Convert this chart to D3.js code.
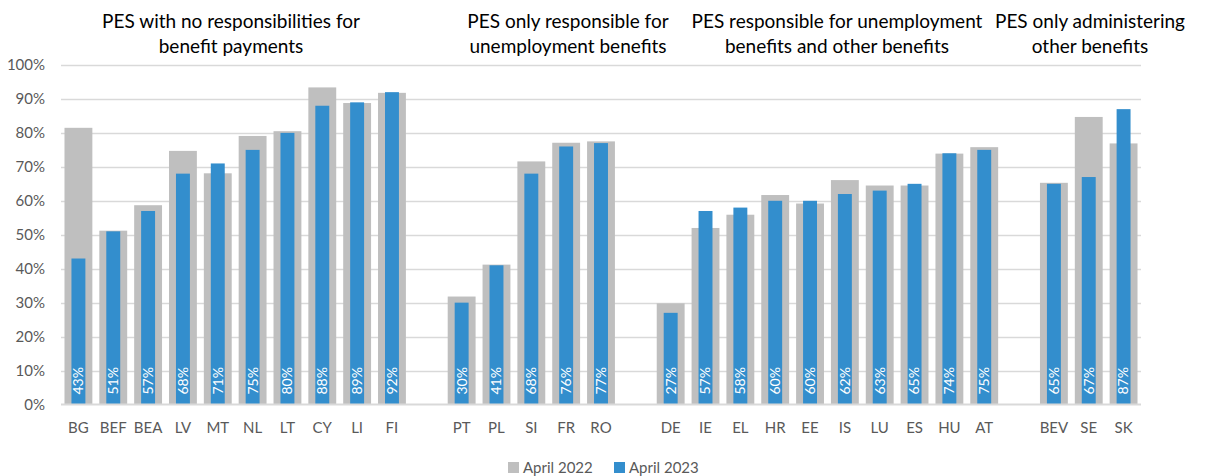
<!DOCTYPE html>
<html>
<head>
<meta charset="utf-8">
<script src="https://cdn.jsdelivr.net/npm/d3@7"></script>
<style>
  body { margin: 0; background: #fff; }
  svg text { font-family: Lato, "Open Sans", sans-serif; }
</style>
</head>
<body>
<div id="chart"></div>
<script>
//-- Data --//
var countries = ["BG","BEF","BEA","LV","MT","NL","LT","CY","LI","FI",
                 "PT","PL","SI","FR","RO",
                 "DE","IE","EL","HR","EE","IS","LU","ES","HU","AT",
                 "BEV","SE","SK"];
var april2022 = [81.5,51.2,58.7,74.7,68.1,79.1,80.5,93.4,88.8,91.8,
                 31.8,41.2,71.6,77.1,77.5,
                 29.8,52.0,55.9,61.7,59.2,66.1,64.5,64.5,73.9,75.8,
                 65.3,84.7,76.9];
var april2023 = [43,51,57,68,71,75,80,88,89,92,
                 30,41,68,76,77,
                 27,57,58,60,60,62,63,65,74,75,
                 65,67,87];
var groupSizes = [10, 5, 10, 3];
var groupTitles = [["PES with no responsibilities for", "benefit payments"],
                   ["PES only responsible for", "unemployment benefits"],
                   ["PES responsible for unemployment", "benefits and other benefits"],
                   ["PES only administering", "other benefits"]];
var yTicks = [0,10,20,30,40,50,60,70,80,90,100];
var seriesNames = ["April 2022", "April 2023"];

//-- Margin setup --//
var width = 1223, height = 476;
var plot = {left: 61, right: 1141, top: 65, bottom: 404.5};
var grey = "#bfbfbf", blue = "#338ecd", axisGrey = "#595959";

var svg = d3.select("#chart").append("svg")
  .attr("width", width)
  .attr("height", height);

//-- Build slots with one empty slot between groups --//
var slots = [], data = [], k = 0;
groupSizes.forEach(function(n, g) {
  if (g > 0) slots.push("gap" + g);
  for (var i = 0; i < n; i++) {
    slots.push(countries[k]);
    data.push({name: countries[k], v22: april2022[k], v23: april2023[k], group: g});
    k++;
  }
});

//-- Scales --//
var xScale = d3.scaleBand().domain(slots).range([plot.left, plot.right]).padding(0);
var yScale = d3.scaleLinear().domain([0, 100]).range([plot.bottom, plot.top]);
var bw = xScale.bandwidth();

//-- Gridlines and y labels --//
svg.append("g").selectAll("line")
  .data(yTicks.filter(function(d){ return d > 0; }))
  .enter().append("line")
  .attr("x1", plot.left).attr("x2", plot.right)
  .attr("y1", function(d){ return Math.round(yScale(d)) + 0.5; })
  .attr("y2", function(d){ return Math.round(yScale(d)) + 0.5; })
  .attr("stroke", "#d9d9d9").attr("stroke-width", 1.5);

svg.append("g").selectAll("text")
  .data(yTicks)
  .enter().append("text")
  .attr("x", 45)
  .attr("y", function(d){ return yScale(d); })
  .attr("dy", "0.35em")
  .attr("text-anchor", "end")
  .attr("font-size", 15)
  .attr("fill", axisGrey)
  .text(function(d){ return d + "%"; });

//-- Bars --//
svg.append("g").selectAll("rect")
  .data(data)
  .enter().append("rect")
  .attr("x", function(d){ return xScale(d.name) + bw * 0.1; })
  .attr("width", bw * 0.8)
  .attr("y", function(d){ return yScale(d.v22); })
  .attr("height", function(d){ return yScale(0) - yScale(d.v22); })
  .attr("fill", grey);

svg.append("g").selectAll("rect")
  .data(data)
  .enter().append("rect")
  .attr("x", function(d){ return xScale(d.name) + bw * 0.3; })
  .attr("width", bw * 0.4)
  .attr("y", function(d){ return yScale(d.v23); })
  .attr("height", function(d){ return yScale(0) - yScale(d.v23); })
  .attr("fill", blue);

// x axis line
svg.append("line")
  .attr("x1", plot.left).attr("x2", plot.right)
  .attr("y1", plot.bottom).attr("y2", plot.bottom)
  .attr("stroke", "#d9d9d9").attr("stroke-width", 2);

//-- Data labels (rotated, inside bars) --//
svg.append("g").selectAll("text")
  .data(data)
  .enter().append("text")
  .attr("transform", function(d){
    return "translate(" + (xScale(d.name) + bw / 2) + "," + (plot.bottom - 10) + ") rotate(-90)";
  })
  .attr("dy", "0.35em")
  .attr("font-size", 14)
  .attr("fill", "#fff")
  .text(function(d){ return d.v23 + "%"; });

//-- Category labels --//
svg.append("g").selectAll("text")
  .data(data)
  .enter().append("text")
  .attr("x", function(d){ return xScale(d.name) + bw / 2; })
  .attr("y", 433)
  .attr("text-anchor", "middle")
  .attr("font-size", 15)
  .attr("fill", axisGrey)
  .text(function(d){ return d.name; });

//-- Group titles --//
var titleCenters = [231, 568, 837, 1090];
groupTitles.forEach(function(lines, g) {
  var t = svg.append("text")
    .attr("text-anchor", "middle")
    .attr("font-size", 19)
    .attr("fill", "#000");
  lines.forEach(function(line, i) {
    t.append("tspan")
      .attr("x", titleCenters[g])
      .attr("y", 28 + i * 25)
      .text(line);
  });
});

//-- Legend --//
var legend = svg.append("g");
var legendX = [508, 614];
seriesNames.forEach(function(name, i) {
  legend.append("rect")
    .attr("x", legendX[i]).attr("y", 462)
    .attr("width", 11).attr("height", 11)
    .attr("fill", i === 0 ? grey : blue);
  legend.append("text")
    .attr("x", legendX[i] + 15).attr("y", 473)
    .attr("font-size", 15)
    .attr("fill", axisGrey)
    .text(name);
});
</script>
</body>
</html>
